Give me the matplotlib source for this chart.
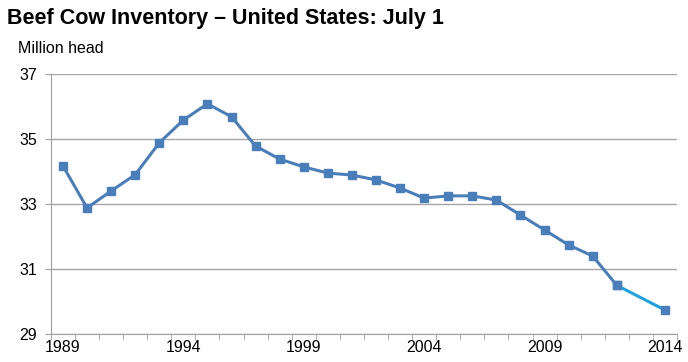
import matplotlib.pyplot as plt
import numpy as np

plt.rcParams['font.family'] = ['Liberation Sans', 'DejaVu Sans']

years = list(range(1989, 2013))
inventory = [34.17, 32.88, 33.40, 33.90, 34.88, 35.58, 36.08, 35.68, 34.78, 34.38,
             34.14, 33.95, 33.89, 33.74, 33.49, 33.18, 33.25, 33.25, 33.12, 32.66,
             32.20, 31.74, 31.40, 30.50]
recent_years = [2012, 2014]
recent_inventory = [30.50, 29.74]
tick_years = [1989, 1994, 1999, 2004, 2009, 2014]

fig = plt.figure(figsize=(6.88, 3.62), dpi=100)
ax = fig.add_axes([0.074, 0.077, 0.910, 0.719])

ax.plot(recent_years, recent_inventory, color='#1FA2DE', lw=2.2, marker='s', ms=6,
        mfc='#4A7EBB', mec='#4A7EBB', zorder=3)
ax.plot(years, inventory, color='#4A7EBB', lw=2.2, marker='s', ms=6, zorder=4)

ax.set_xlim(1988.5, 2014.5)
ax.set_ylim(29, 37)
ax.set_yticks([29, 31, 33, 35, 37])
ax.set_xticks(tick_years)
ax.set_xticks(np.arange(1988.5, 2015, 1), minor=True)
ax.tick_params(axis='x', which='major', length=0, labelsize=11.5, pad=4)
ax.tick_params(axis='x', which='minor', length=4, color='#A0A0A0', direction='out')
ax.tick_params(axis='y', length=4, color='#A0A0A0', labelsize=11.5, pad=6)
ax.grid(axis='y', color='#A6A6A6', lw=1)
ax.set_axisbelow(True)

for s in ['top', 'right']:
    ax.spines[s].set_visible(False)
for s in ['left', 'bottom']:
    ax.spines[s].set_color('#A0A0A0')

fig.text(0.010, 0.950, 'Beef Cow Inventory \u2013 United States: July 1',
         fontsize=15.5, fontweight='bold', ha='left', va='center')
fig.text(0.026, 0.866, 'Million head', fontsize=11.5, ha='left', va='center')

fig.savefig('out.png', dpi=100)
